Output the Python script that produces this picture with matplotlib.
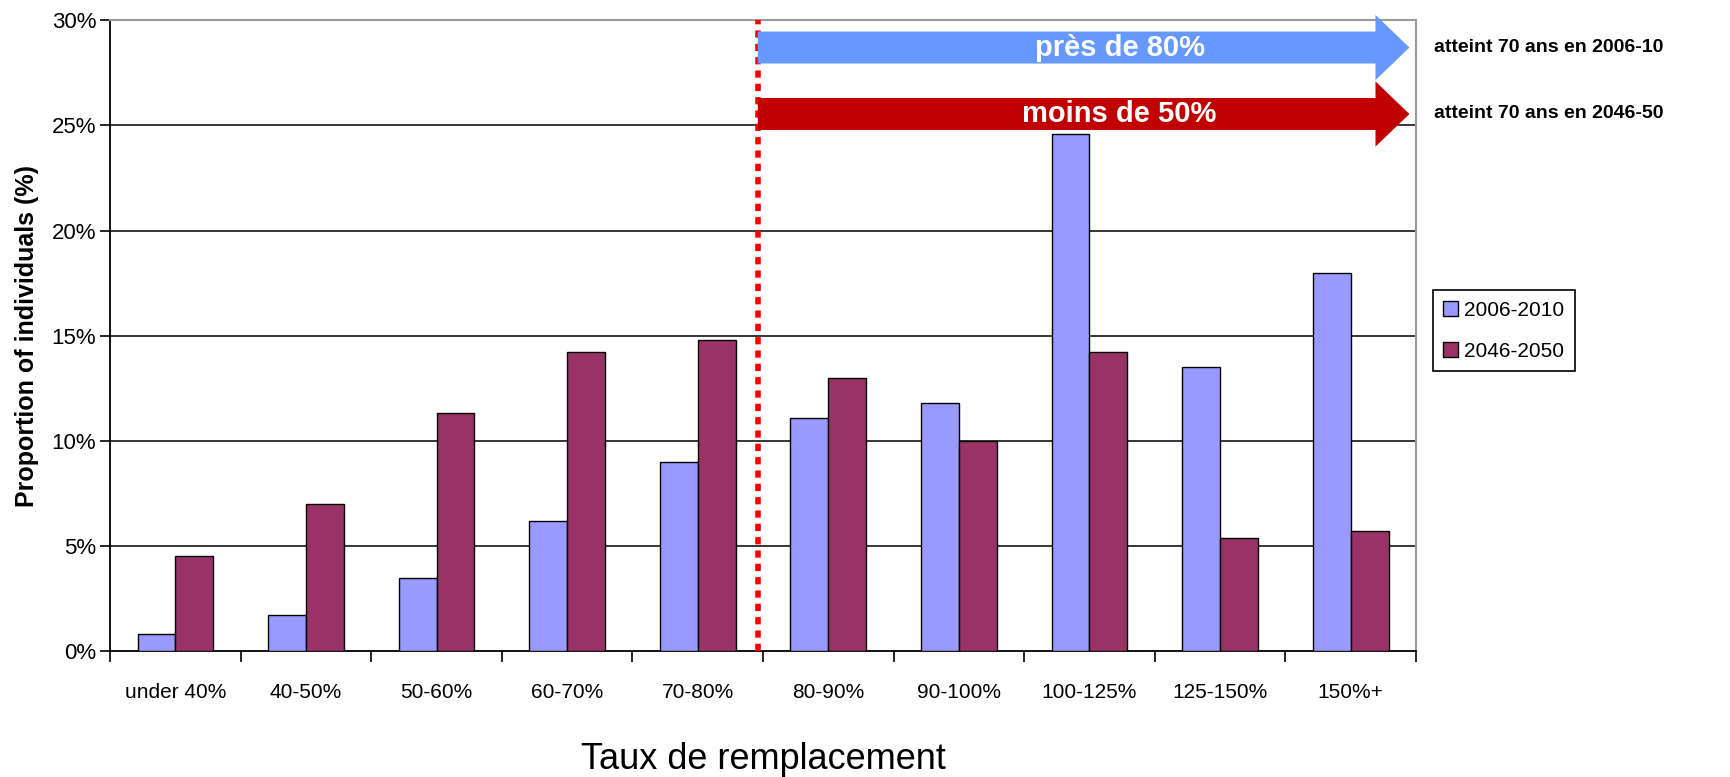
import numpy as np
import matplotlib
matplotlib.use("Agg")
import matplotlib.pyplot as plt
from matplotlib import font_manager
from matplotlib.patches import FancyArrow

# fontes : Arial Narrow -> Liberation Sans Narrow si dispo
noms = {f.name for f in font_manager.fontManager.ttflist}
etroite = "Liberation Sans Narrow" if "Liberation Sans Narrow" in noms else "Liberation Sans"
plt.rcParams['font.family'] = ["Liberation Sans", "DejaVu Sans"]

categories = ["under 40%", "40-50%", "50-60%", "60-70%", "70-80%",
              "80-90%", "90-100%", "100-125%", "125-150%", "150%+"]
v2006 = [0.8, 1.7, 3.5, 6.2, 9.0, 11.1, 11.8, 24.6, 13.5, 18.0]
v2046 = [4.5, 7.0, 11.3, 14.2, 14.8, 13.0, 10.0, 14.2, 5.4, 5.7]
series = ["2006-2010", "2046-2050"]
yticks = [0, 5, 10, 15, 20, 25, 30]

x = np.arange(len(categories))
w = 0.29

fig = plt.figure(figsize=(17.31, 7.77), dpi=100)
ax = fig.add_axes([0.0636, 0.162, 0.7544, 0.812])

ax.bar(x - w / 2, v2006, w, color="#9999FF", edgecolor="black", linewidth=1, label=series[0], zorder=3)
ax.bar(x + w / 2, v2046, w, color="#993366", edgecolor="black", linewidth=1, label=series[1], zorder=3)

ax.set_xlim(-0.5, len(categories) - 0.5)
ax.set_ylim(0, 30)
ax.set_yticks(yticks)
ax.set_yticklabels([f"{t}%" for t in yticks], fontsize=16)
for t in yticks[1:-1]:
    ax.axhline(t, color="black", lw=1.1, zorder=1)

ax.set_xticks(np.arange(len(categories) + 1) - 0.5)
ax.set_xticklabels([])
ax.set_xticks(x, minor=True)
ax.set_xticklabels(categories, minor=True, fontsize=15, family=etroite)
ax.tick_params(axis="x", which="major", direction="out", length=8, width=1.2)
ax.tick_params(axis="x", which="minor", length=0, pad=23)
ax.tick_params(axis="y", direction="out", length=7, width=1.2, pad=3)

ax.spines["top"].set_color("#999999")
ax.spines["right"].set_color("#999999")
ax.spines["top"].set_linewidth(1.5)
ax.spines["right"].set_linewidth(1.5)
ax.spines["left"].set_linewidth(1.3)
ax.spines["bottom"].set_linewidth(1.3)

# ligne pointillée rouge
xs = 4.46
ax.plot([xs, xs], [0, 30], color="red", lw=4, dashes=(1.3, 1.1), zorder=4, clip_on=False)

# flèches
fleches = [(28.7, "#6699FF", "près de 80%", "atteint 70 ans en 2006-10"),
           (25.54, "#C00000", "moins de 50%", "atteint 70 ans en 2046-50")]
for yc, col, txt, txt2 in fleches:
    a = FancyArrow(xs, yc, 9.45 - xs, 0, width=1.52, head_width=3.1, head_length=0.26,
                   length_includes_head=True, color=col, lw=0, zorder=5, clip_on=False)
    ax.add_patch(a)
    ax.text(7.23, yc, txt, color="white", fontsize=21, fontweight="bold", family=etroite,
            ha="center", va="center", zorder=6)
    ax.text(9.64, yc, txt2, color="black", fontsize=14, fontweight="bold", family=etroite,
            ha="left", va="center", clip_on=False)

ax.set_ylabel("Proportion of individuals (%)", fontsize=18, fontweight="bold", labelpad=9)
fig.text(0.441, 0.022, "Taux de remplacement", fontsize=26, family=etroite, ha="center", va="center")

leg = ax.legend(loc="upper left", bbox_to_anchor=(1.013, 0.572), fancybox=False, framealpha=1,
                edgecolor="black", prop={"family": etroite, "size": 15},
                handlelength=0.7, handleheight=0.7, handletextpad=0.3, borderpad=0.5,
                labelspacing=1.05, borderaxespad=0)
leg.get_frame().set_linewidth(1.2)

fig.savefig("out.png", dpi=100)
